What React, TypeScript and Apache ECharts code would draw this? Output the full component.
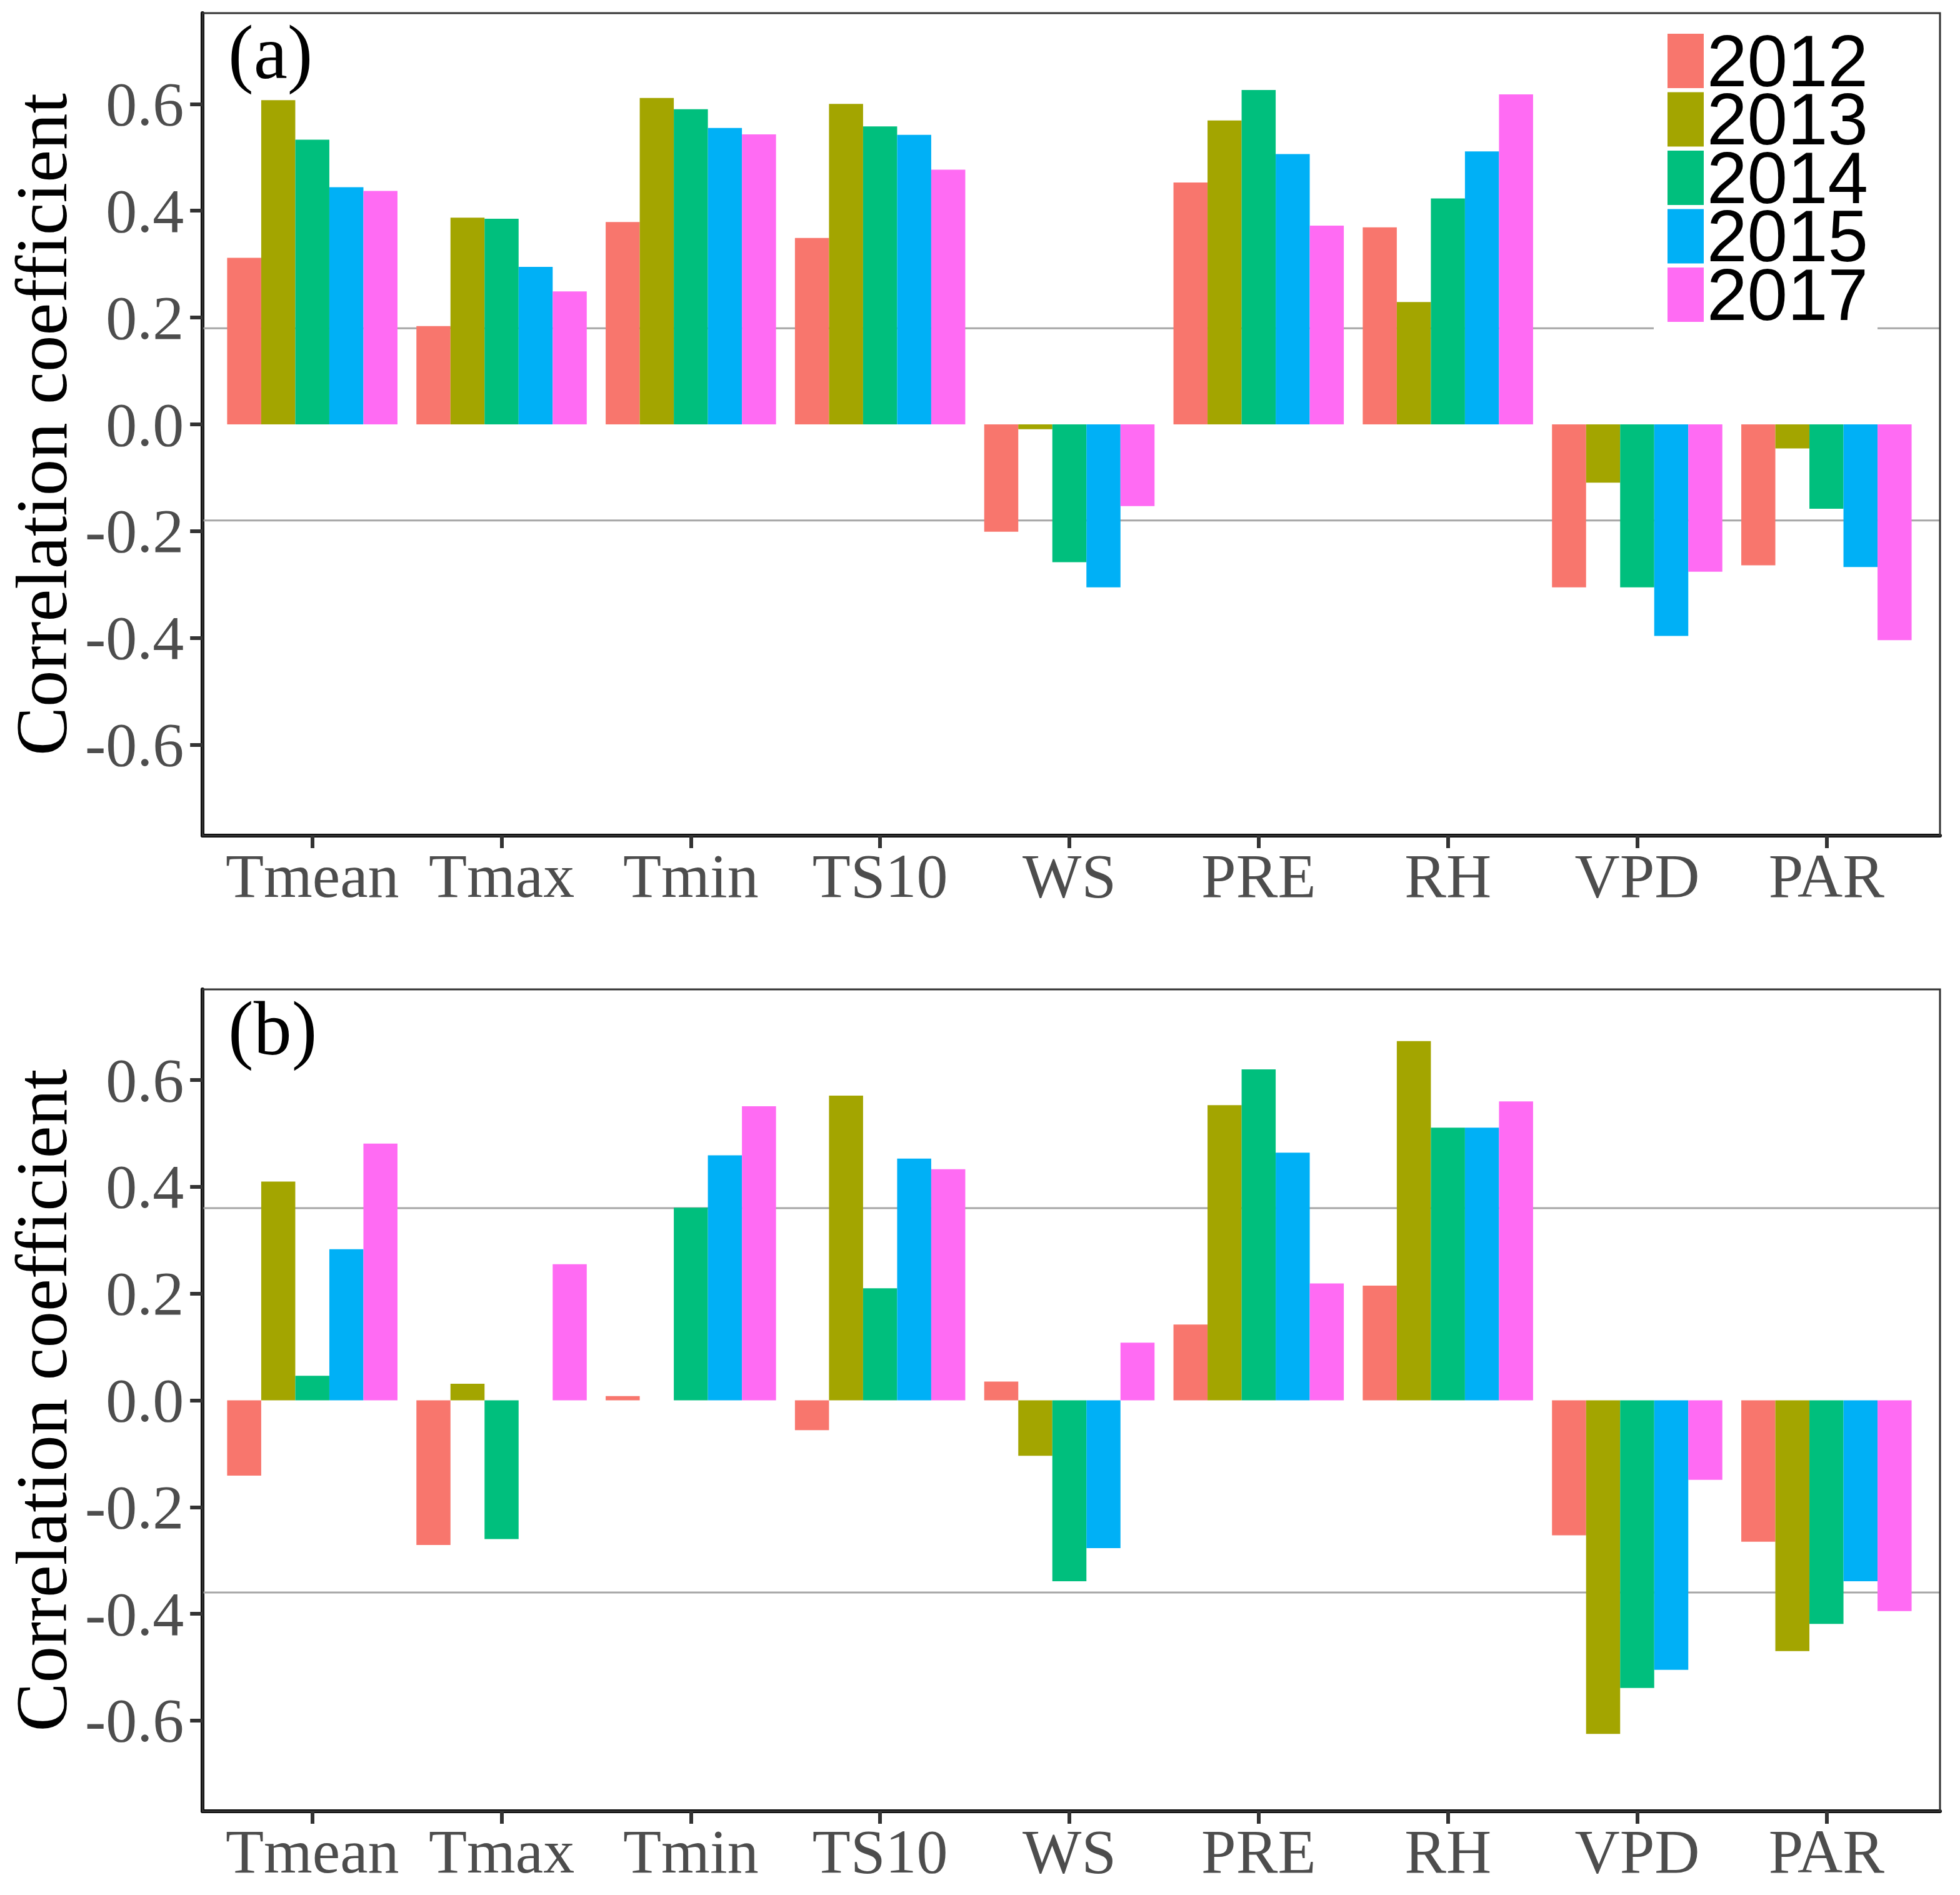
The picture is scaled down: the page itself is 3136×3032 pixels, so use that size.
import React, { useEffect, useRef } from "react";
import * as echarts from "echarts";

const categories = ["Tmean", "Tmax", "Tmin", "TS10", "WS", "PRE", "RH", "VPD", "PAR"];
const years = ["2012", "2013", "2014", "2015", "2017"];
const colors = ["#F8766D", "#A3A500", "#00BF7D", "#00B0F6", "#FF6BF3"];

// Panel (a)
const a2012 = [0.312, 0.184, 0.379, 0.349, -0.201, 0.453, 0.369, -0.305, -0.264];
const a2013 = [0.607, 0.387, 0.611, 0.600, -0.009, 0.569, 0.229, -0.109, -0.045];
const a2014 = [0.533, 0.385, 0.590, 0.558, -0.258, 0.626, 0.423, -0.305, -0.158];
const a2015 = [0.444, 0.295, 0.555, 0.542, -0.305, 0.506, 0.511, -0.396, -0.267];
const a2017 = [0.437, 0.249, 0.543, 0.477, -0.153, 0.372, 0.618, -0.276, -0.404];

// Panel (b)
const b2012 = [-0.141, -0.271, 0.008, -0.056, 0.035, 0.142, 0.215, -0.253, -0.265];
const b2013 = [0.410, 0.031, null, 0.571, -0.104, 0.553, 0.673, -0.625, -0.470];
const b2014 = [0.046, -0.260, 0.361, 0.210, -0.339, 0.620, 0.511, -0.539, -0.419];
const b2015 = [0.283, null, 0.459, 0.453, -0.277, 0.464, 0.511, -0.505, -0.339];
const b2017 = [0.481, 0.255, 0.551, 0.433, 0.108, 0.219, 0.560, -0.149, -0.395];

const thresholdA = 0.18;
const thresholdB = 0.36;
const yTicks = [-0.6, -0.4, -0.2, 0.0, 0.2, 0.4, 0.6];
const panelLabels = ["(a)", "(b)"];

const Y_MIN = -0.77;
const Y_MAX = 0.77;

export default function App() {
  const ref = useRef<HTMLDivElement>(null);

  useEffect(() => {
    document.body.style.margin = "0";
    if (!ref.current) return;
    const chart = echarts.init(ref.current, undefined, { renderer: "svg" });

    const frameL = 318;
    const frameR = 3104;
    const frameW = frameR - frameL;
    const unit = frameW / 9.2;
    const barL = frameL + unit * 0.1;
    const barW = frameW - unit * 0.2;
    const tops = [21, 1583];
    const bottoms = [1337, 2898];

    const serif = "Liberation Serif";
    const grids: any[] = [];
    const xAxes: any[] = [];
    const yAxes: any[] = [];
    const series: any[] = [];
    const titles: any[] = [];

    const panels = [
      { data: [a2012, a2013, a2014, a2015, a2017], th: thresholdA },
      { data: [b2012, b2013, b2014, b2015, b2017], th: thresholdB },
    ];

    panels.forEach((p, i) => {
      const top = tops[i];
      const h = bottoms[i] - tops[i];
      const gA = grids.length;
      grids.push({
        left: frameL,
        width: frameW,
        top,
        height: h,
        show: true,
        borderColor: "#333333",
        borderWidth: 3,
        backgroundColor: "transparent",
        z: 5,
      });
      const gB = grids.length;
      grids.push({ left: barL, width: barW, top, height: h, show: false });

      const xA = xAxes.length;
      xAxes.push({
        gridIndex: gA,
        type: "value",
        min: 0,
        max: 1,
        axisLine: { show: true, onZero: false, lineStyle: { color: "#000", width: 6 } },
        axisTick: { show: false },
        axisLabel: { show: false },
        splitLine: { show: false },
      });
      const xB = xAxes.length;
      xAxes.push({
        gridIndex: gB,
        type: "category",
        data: categories,
        position: "bottom",
        axisLine: { show: false, onZero: false },
        axisTick: {
          show: true,
          alignWithLabel: true,
          length: 20,
          lineStyle: { color: "#333333", width: 6 },
        },
        axisLabel: {
          interval: 0,
          margin: 14,
          fontSize: 100,
          fontFamily: serif,
          color: "#4D4D4D",
        },
        splitLine: { show: false },
      });

      const yA = yAxes.length;
      yAxes.push({
        gridIndex: gA,
        type: "value",
        min: Y_MIN,
        max: Y_MAX,
        name: "Correlation coefficient",
        nameLocation: "middle",
        nameRotate: 90,
        nameGap: 184,
        nameTextStyle: { fontSize: 117, fontFamily: serif, color: "#000" },
        axisLine: { show: true, onZero: false, lineStyle: { color: "#000", width: 6 } },
        axisTick: {
          show: true,
          length: 20,
          customValues: yTicks,
          lineStyle: { color: "#333333", width: 6 },
        },
        axisLabel: {
          customValues: yTicks,
          margin: 30,
          fontSize: 100,
          fontFamily: serif,
          color: "#4D4D4D",
          formatter: (v: number) => v.toFixed(1),
        },
        splitLine: { show: false },
      });
      const yB = yAxes.length;
      yAxes.push({ gridIndex: gB, type: "value", min: Y_MIN, max: Y_MAX, show: false, splitLine: { show: false } });

      [p.th, -p.th].forEach((t) => {
        series.push({
          type: "line",
          xAxisIndex: xA,
          yAxisIndex: yA,
          data: [
            [0, t],
            [1, t],
          ],
          symbol: "none",
          silent: true,
          z: 1,
          lineStyle: { color: "#A6A6A6", width: 3 },
        });
      });

      years.forEach((y, k) => {
        series.push({
          type: "bar",
          name: y,
          xAxisIndex: xB,
          yAxisIndex: yB,
          data: p.data[k],
          barGap: "0%",
          barCategoryGap: "10%",
          itemStyle: { color: colors[k] },
          z: 2,
        });
      });

      titles.push({
        text: panelLabels[i],
        left: 365,
        top: 22 + (tops[i] - tops[0]),
        padding: 0,
        textStyle: { fontSize: 122, fontFamily: serif, fontWeight: "normal", color: "#000" },
      });
    });

    chart.setOption({
      animation: false,
      backgroundColor: "#fff",
      color: colors,
      title: titles,
      grid: grids,
      xAxis: xAxes,
      yAxis: yAxes,
      legend: {
        data: years,
        orient: "vertical",
        left: 2646,
        top: 25,
        padding: [14.5, 15, 6, 22],
        itemWidth: 58,
        itemHeight: 87,
        itemGap: -22.5,
        icon: "rect",
        backgroundColor: "#fff",
        textStyle: { fontSize: 116, fontFamily: "Liberation Sans", color: "#000" },
      },
      series,
    });

    return () => chart.dispose();
  }, []);

  return <div ref={ref} style={{ width: 3136, height: 3032 }} />;
}
